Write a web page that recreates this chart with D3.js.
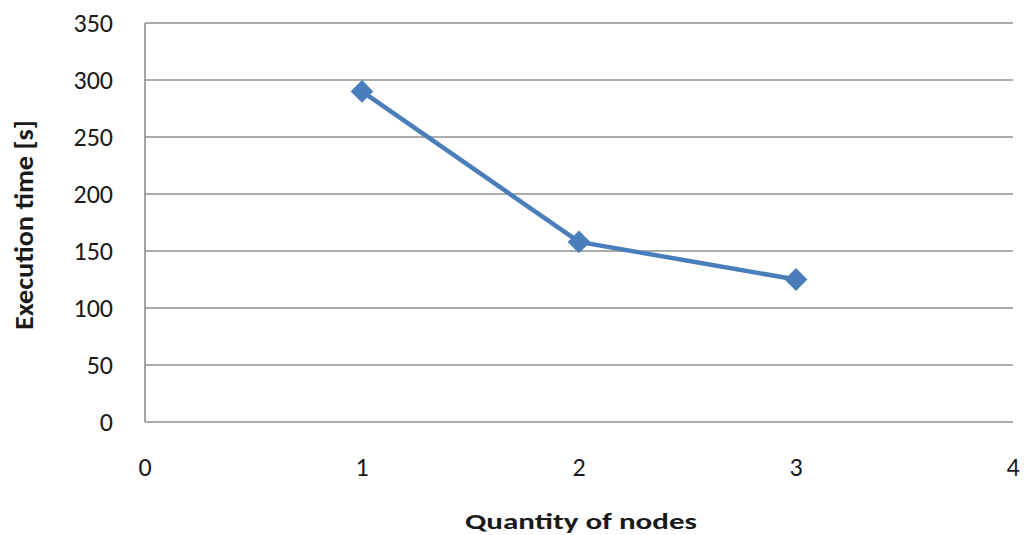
<!DOCTYPE html>
<html>
<head>
<meta charset="utf-8">
<script src="https://cdn.jsdelivr.net/npm/d3@7"></script>
<style>
  html, body { margin: 0; padding: 0; background: #fff; }
  svg text { font-family: Carlito, Lato, "Open Sans", sans-serif; fill: #1a1a1a; }
</style>
</head>
<body>
<svg id="chart" width="1024" height="535"></svg>
<script>
// Execution time measured for each node count
const nodes = [1, 2, 3];
const execTime = [290, 158, 125];
const xTicks = [0, 1, 2, 3, 4];
const yTicks = [0, 50, 100, 150, 200, 250, 300, 350];

const svg = d3.select("#chart");
const margin = { left: 145, right: 11, top: 23, bottom: 113 };
const W = 1024, H = 535;

const x = d3.scaleLinear().domain([0, 4]).range([margin.left, W - margin.right]);
const y = d3.scaleLinear().domain([0, 350]).range([H - margin.bottom, margin.top]);

// horizontal gridlines
svg.append("g")
  .selectAll("line")
  .data(yTicks)
  .join("line")
  .attr("x1", x(0)).attr("x2", x(4))
  .attr("y1", d => y(d)).attr("y2", d => y(d))
  .attr("stroke", "#8f8f8f").attr("stroke-width", 1.6);

// vertical axis line
svg.append("line")
  .attr("x1", x(0)).attr("x2", x(0))
  .attr("y1", y(0)).attr("y2", y(350))
  .attr("stroke", "#8f8f8f").attr("stroke-width", 1.6);

// y tick labels
svg.append("g")
  .selectAll("text")
  .data(yTicks)
  .join("text")
  .attr("x", 113).attr("y", d => y(d))
  .attr("dy", "0.36em")
  .attr("text-anchor", "end")
  .attr("font-size", 26)
  .text(d => d);

// x tick labels
svg.append("g")
  .selectAll("text")
  .data(xTicks)
  .join("text")
  .attr("x", d => x(d)).attr("y", 467)
  .attr("dy", "0.36em")
  .attr("text-anchor", "middle")
  .attr("font-size", 26)
  .text(d => d);

// axis titles
svg.append("text")
  .attr("x", 581).attr("y", 529)
  .attr("text-anchor", "middle")
  .attr("font-size", 23).attr("font-weight", "bold")
  .attr("textLength", 232).attr("lengthAdjust", "spacingAndGlyphs")
  .text("Quantity of nodes");

svg.append("text")
  .attr("transform", "translate(23,225) rotate(-90)")
  .attr("dy", "0.36em")
  .attr("text-anchor", "middle")
  .attr("font-size", 27).attr("font-weight", "bold")
  .attr("textLength", 210).attr("lengthAdjust", "spacingAndGlyphs")
  .text("Execution time [s]");

// series line
const pts = nodes.map((n, i) => [n, execTime[i]]);
svg.append("path")
  .datum(pts)
  .attr("fill", "none")
  .attr("stroke", "#4a7ebb")
  .attr("stroke-width", 4.5)
  .attr("stroke-linejoin", "round")
  .attr("d", d3.line().x(d => x(d[0])).y(d => y(d[1])));

// diamond markers
const diamond = d3.symbol().type(d3.symbolSquare).size(260);
svg.append("g")
  .selectAll("path")
  .data(pts)
  .join("path")
  .attr("d", diamond)
  .attr("transform", d => `translate(${x(d[0])},${y(d[1])}) rotate(45)`)
  .attr("fill", "#4a7ebb");
</script>
</body>
</html>
